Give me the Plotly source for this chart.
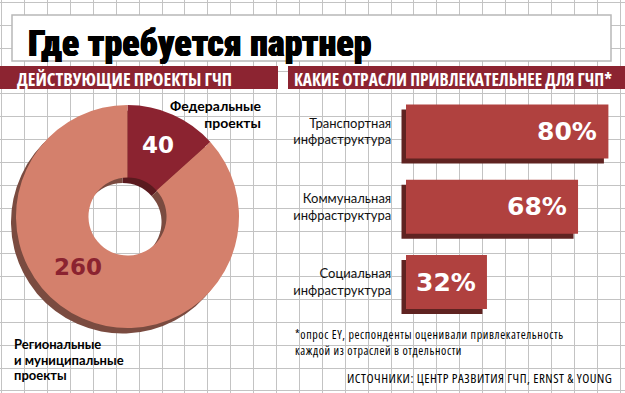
import plotly.graph_objects as go

W, H = 625, 393

# ---------------- data ----------------
title_text = "Где требуется партнер"
left_header = "ДЕЙСТВУЮЩИЕ ПРОЕКТЫ ГЧП"
right_header = "КАКИЕ ОТРАСЛИ ПРИВЛЕКАТЕЛЬНЕЕ ДЛЯ ГЧП*"

donut_labels = ["Федеральные проекты", "Региональные и муниципальные проекты"]
donut_values = [40, 260]
fed_label_lines = ["Федеральные", "проекты"]
reg_label_lines = ["Региональные", "и муниципальные", "проекты"]

sector_labels = ["Транспортная<br>инфраструктура",
                 "Коммунальная<br>инфраструктура",
                 "Социальная<br>инфраструктура"]
sector_values = [80, 68, 32]

footnote_lines = ["*опрос EY, респонденты оценивали привлекательность",
                  "каждой из отраслей в отдельности"]
source_text = "ИСТОЧНИКИ: ЦЕНТР РАЗВИТИЯ ГЧП, ERNST & YOUNG"

# ---------------- styles ----------------
GRID = "#c3c3c3"
HEADER_RED = "#8c2431"
DONUT_COLORS = ["#8b2330", "#d4806c"]
DONUT_SHADOW = ["#5a1a1f", "#7a4b40"]
BAR_FACE = "#b0413f"
BAR_SHADOW = "#5f2321"

OPEN = "Open Sans, Liberation Sans, sans-serif"
NUM = "DejaVu Sans, Lato, sans-serif"
GEO = "Lato, Roboto, sans-serif"


def span(t, size=None, stretch=None, spacing=None):
    st = []
    if stretch:
        st.append(f"font-stretch:{stretch}")
    if size:
        st.append(f"font-size:{size}px")
    if spacing:
        st.append(f"letter-spacing:{spacing}px")
    return f'<span style="{";".join(st)}">{t}</span>'


def lines(ls, size=None, stretch=None, spacing=None):
    return "<br>".join(span(t, size, stretch, spacing) for t in ls)


fig = go.Figure()

# background subplot (pixel coordinates) carrying the paper grid
fig.add_trace(go.Scatter(x=[], y=[], xaxis="x", yaxis="y", hoverinfo="skip", showlegend=False))

# ---------------- donut ----------------
cx, cy, r = 127.5, 216.5, 111.5
sdx, sdy = -5, 5.5

def dom(cx_, cy_):
    return dict(x=[(cx_ - r) / W, (cx_ + r) / W],
                y=[1 - (cy_ + r) / H, 1 - (cy_ - r) / H])

fig.add_trace(go.Pie(values=donut_values, labels=donut_labels, hole=0.35, sort=False,
                     direction="clockwise", rotation=0, textinfo="none",
                     marker=dict(colors=DONUT_SHADOW, line=dict(width=0)),
                     domain=dom(cx + sdx, cy + sdy), showlegend=False, hoverinfo="skip"))
fig.add_trace(go.Pie(values=donut_values, labels=donut_labels, hole=0.35, sort=False,
                     direction="clockwise", rotation=0, textinfo="none",
                     marker=dict(colors=DONUT_COLORS, line=dict(width=0)),
                     domain=dom(cx, cy), showlegend=False))

# ---------------- bars ----------------
px_per_unit = 2.53
zero_px = 406
xr = [-4, 84]
row_px = 75.25
first_row_px = 131.5
bar_w = 54 / row_px
sh_dx = -4.5 / px_per_unit
sh_dy = 5 / row_px

fig.add_trace(go.Bar(y=sector_labels, x=sector_values, orientation="h",
                     base=sh_dx, width=bar_w, offset=-bar_w / 2 + sh_dy,
                     marker=dict(color=BAR_SHADOW, line=dict(width=0)),
                     xaxis="x2", yaxis="y2", hoverinfo="skip", showlegend=False))
fig.add_trace(go.Bar(y=sector_labels, x=sector_values, orientation="h",
                     width=bar_w, offset=-bar_w / 2,
                     marker=dict(color=BAR_FACE, line=dict(width=0)),
                     xaxis="x2", yaxis="y2", showlegend=False))

x2_dom = [(zero_px + xr[0] * px_per_unit) / W, (zero_px + xr[1] * px_per_unit) / W]
y2_top = first_row_px - 0.5 * row_px
y2_bot = first_row_px + 2.5 * row_px
y2_dom = [1 - y2_bot / H, 1 - y2_top / H]

annotations = []

def ann(text, x, y, size, color="#000", family=OPEN, weight="normal", align="left",
        xanchor="left", yanchor="middle", xref="x", yref="y", xshift=0, shadow="none"):
    annotations.append(dict(text=text, x=x, y=y, xref=xref, yref=yref, showarrow=False,
                            xanchor=xanchor, yanchor=yanchor, xshift=xshift, align=align,
                            borderpad=0,
                            font=dict(size=size, color=color, family=family, weight=weight,
                                      shadow=shadow)))

# title & headers
ann(span(title_text, stretch="condensed"), 27, 44, 36, family="Roboto Condensed, Roboto", weight=900,
    shadow="0.4px 0 0 #000, -0.4px 0 0 #000")
ann(span(left_header, stretch="condensed"), 16, 78.5, 18, color="white", family=OPEN, weight="bold")
ann(span(right_header, stretch="condensed"), 293, 78.5, 17.4, color="white", family=OPEN, weight="bold")

# donut labels
ann(str(donut_values[0]), 158, 145, 23, color="white", family=NUM, weight="bold", xanchor="center")
ann(str(donut_values[1]), 78, 267, 23, color=DONUT_COLORS[0], family=NUM, weight="bold", xanchor="center")
ann(lines(fed_label_lines, size=14), 262, 113.5, 13, family=GEO, weight="bold",
    xanchor="right", align="right")
ann(lines(reg_label_lines, size=13), 13, 359, 12, family=GEO, weight="bold")

# bar value labels
for lab, v in zip(sector_labels, sector_values):
    ann(f"{v}%", v, lab, 25, color="white", family=NUM, weight="bold",
        xanchor="right", xref="x2", yref="y2", xshift=-10)

# footnote and source
ann(lines(footnote_lines, size=12, stretch="condensed", spacing=0.6), 294, 342, 12.6, family=OPEN)
ann(span(source_text, stretch="condensed", spacing=0.5), 613, 378, 13, family=OPEN, xanchor="right")

shapes = [
    dict(type="rect", xref="x", yref="y", x0=12, x1=611, y0=15, y1=61,
         fillcolor="white", line=dict(color="#b8b8b8", width=1.5), layer="between"),
    dict(type="rect", xref="x", yref="y", x0=0, x1=278, y0=66, y1=89,
         fillcolor=HEADER_RED, line=dict(width=0), layer="between"),
    dict(type="rect", xref="x", yref="y", x0=288, x1=625, y0=66, y1=89,
         fillcolor=HEADER_RED, line=dict(width=0), layer="between"),
]

fig.update_layout(
    width=W, height=H, margin=dict(l=0, r=0, t=0, b=0),
    paper_bgcolor="white", plot_bgcolor="rgba(0,0,0,0)",
    barmode="overlay", showlegend=False,
    xaxis=dict(domain=[0, 1], range=[0, W], showgrid=True, gridcolor=GRID, gridwidth=1.3,
               tick0=1.7, dtick=22.9, showticklabels=False, zeroline=False, ticks="",
               fixedrange=True, anchor="y"),
    yaxis=dict(domain=[0, 1], range=[H, 0], showgrid=True, gridcolor=GRID, gridwidth=1.3,
               tick0=2.5, dtick=22.85, showticklabels=False, zeroline=False, ticks="",
               fixedrange=True, anchor="x"),
    xaxis2=dict(domain=x2_dom, range=xr, visible=False, anchor="y2", fixedrange=True),
    yaxis2=dict(domain=y2_dom, range=[2.5, -0.5], anchor="x2", showgrid=False, zeroline=False,
                showline=False, ticks="outside", ticklen=1, tickcolor="rgba(0,0,0,0)",
                tickfont=dict(size=13, color="#111", family=GEO), fixedrange=True,
                type="category", categoryorder="array", categoryarray=sector_labels),
    shapes=shapes, annotations=annotations,
)

fig.write_html("out.html", config={"displayModeBar": False},
               post_script="document.body.style.margin='0';document.body.style.overflow='hidden';")
